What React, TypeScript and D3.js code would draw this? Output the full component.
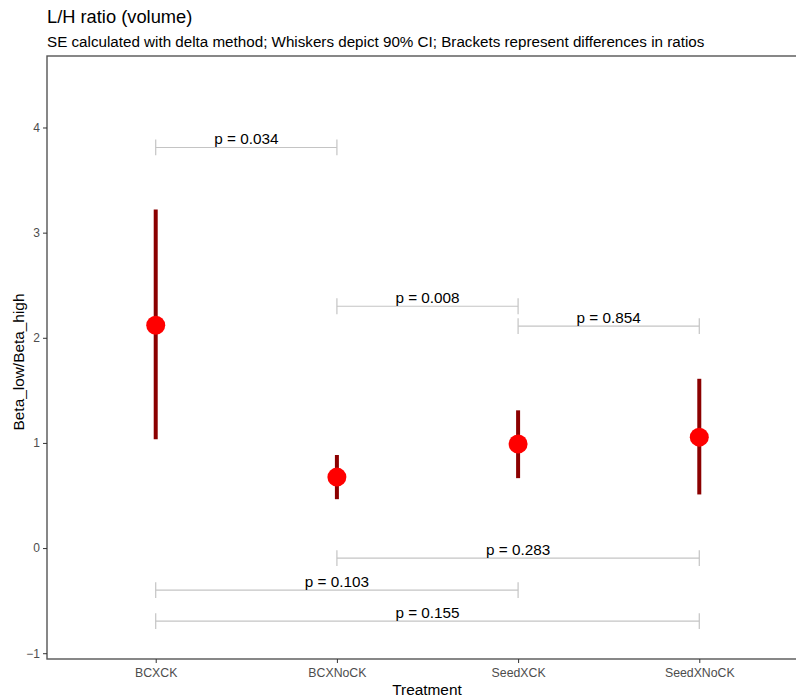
import React, { useEffect, useRef } from "react";
import * as d3 from "d3";

// ratio estimates with 90% CI
const treatments = ["BCXCK", "BCXNoCK", "SeedXCK", "SeedXNoCK"];
const ratio = [2.12, 0.675, 0.99, 1.055];
const ciLow = [1.035, 0.465, 0.665, 0.51];
const ciHigh = [3.22, 0.885, 1.31, 1.61];

// brackets for pairwise differences
const bracketFrom = ["BCXCK", "BCXNoCK", "SeedXCK", "BCXNoCK", "BCXCK", "BCXCK"];
const bracketTo = ["BCXNoCK", "SeedXCK", "SeedXNoCK", "SeedXNoCK", "SeedXCK", "SeedXNoCK"];
const bracketY = [3.81, 2.3, 2.11, -0.095, -0.4, -0.695];
const bracketP = ["0.034", "0.008", "0.854", "0.283", "0.103", "0.155"];

const yTicks = [-1, 0, 1, 2, 3, 4];

export default function App() {
  const ref = useRef<SVGSVGElement>(null);
  const width = 796;
  const height = 699;
  const margin = { top: 56, right: -12, bottom: 40, left: 47 };

  useEffect(() => {
    const svg = d3.select(ref.current);
    svg.selectAll("*").remove();
    const font = "Arial, 'Liberation Sans', sans-serif";

    const x = d3
      .scalePoint()
      .domain(treatments)
      .range([margin.left, width - margin.right])
      .padding(0.6);
    const y = d3
      .scaleLinear()
      .domain([-1.055, 4.68])
      .range([height - margin.bottom, margin.top]);

    // title
    svg
      .append("text")
      .attr("x", margin.left)
      .attr("y", 23)
      .attr("font-family", font)
      .attr("font-size", 18.3)
      .attr("fill", "#000")
      .text("L/H ratio (volume)");
    svg
      .append("text")
      .attr("x", margin.left)
      .attr("y", 47)
      .attr("font-family", font)
      .attr("font-size", 15.2)
      .attr("fill", "#000")
      .text(
        "SE calculated with delta method; Whiskers depict 90% CI; Brackets represent differences in ratios"
      );

    // brackets
    const br = svg.append("g");
    bracketP.forEach((p, i) => {
      const x1 = x(bracketFrom[i])!;
      const x2 = x(bracketTo[i])!;
      const yy = y(bracketY[i]);
      const g = br.append("g").attr("stroke", "#c4c4c4").attr("stroke-width", 1.2);
      g.append("line").attr("x1", x1).attr("x2", x2).attr("y1", yy).attr("y2", yy);
      [x1, x2].forEach((xx) => {
        g.append("line")
          .attr("x1", xx)
          .attr("x2", xx)
          .attr("y1", y(bracketY[i] + 0.075))
          .attr("y2", y(bracketY[i] - 0.075));
      });
      br.append("text")
        .attr("x", (x1 + x2) / 2)
        .attr("y", yy - 3)
        .attr("text-anchor", "middle")
        .attr("font-family", font)
        .attr("font-size", 15.3)
        .attr("fill", "#000")
        .text("p = " + p);
    });

    // whiskers
    svg
      .selectAll("line.ci")
      .data(treatments)
      .enter()
      .append("line")
      .attr("class", "ci")
      .attr("x1", (d) => x(d)!)
      .attr("x2", (d) => x(d)!)
      .attr("y1", (d, i) => y(ciLow[i]))
      .attr("y2", (d, i) => y(ciHigh[i]))
      .attr("stroke", "#8b0000")
      .attr("stroke-width", 4);

    // points
    svg
      .selectAll("circle.pt")
      .data(treatments)
      .enter()
      .append("circle")
      .attr("class", "pt")
      .attr("cx", (d) => x(d)!)
      .attr("cy", (d, i) => y(ratio[i]))
      .attr("r", 9.5)
      .attr("fill", "#ff0000");

    // axes
    const axisColor = "#4d4d4d";
    svg
      .append("rect")
      .attr("x", margin.left)
      .attr("y", margin.top)
      .attr("width", width - margin.right - margin.left)
      .attr("height", height - margin.bottom - margin.top)
      .attr("fill", "none")
      .attr("stroke", "#555")
      .attr("stroke-width", 1.4);

    const yAxis = svg
      .append("g")
      .attr("transform", `translate(${margin.left},0)`)
      .call(d3.axisLeft(y).tickValues(yTicks).tickSize(4).tickPadding(3).tickFormat(d3.format("d")));
    yAxis.select(".domain").remove();
    yAxis.selectAll("line").attr("stroke", "#333");
    yAxis
      .selectAll("text")
      .attr("font-family", font)
      .attr("font-size", 12)
      .attr("fill", axisColor);

    const xAxis = svg
      .append("g")
      .attr("transform", `translate(0,${height - margin.bottom})`)
      .call(d3.axisBottom(x).tickSize(4).tickPadding(5));
    xAxis.select(".domain").remove();
    xAxis.selectAll("line").attr("stroke", "#333");
    xAxis
      .selectAll("text")
      .attr("font-family", font)
      .attr("font-size", 12.3)
      .attr("fill", axisColor);

    // axis titles
    svg
      .append("text")
      .attr("x", 427)
      .attr("y", 695)
      .attr("text-anchor", "middle")
      .attr("font-family", font)
      .attr("font-size", 15.4)
      .attr("fill", "#000")
      .text("Treatment");
    svg
      .append("text")
      .attr("transform", `translate(24,362) rotate(-90)`)
      .attr("text-anchor", "middle")
      .attr("font-family", font)
      .attr("font-size", 15.4)
      .attr("fill", "#000")
      .text("Beta_low/Beta_high");
  });

  return (
    <svg
      ref={ref}
      width={width}
      height={height}
      style={{ position: "absolute", left: 0, top: 0, background: "#fff" }}
    />
  );
}
